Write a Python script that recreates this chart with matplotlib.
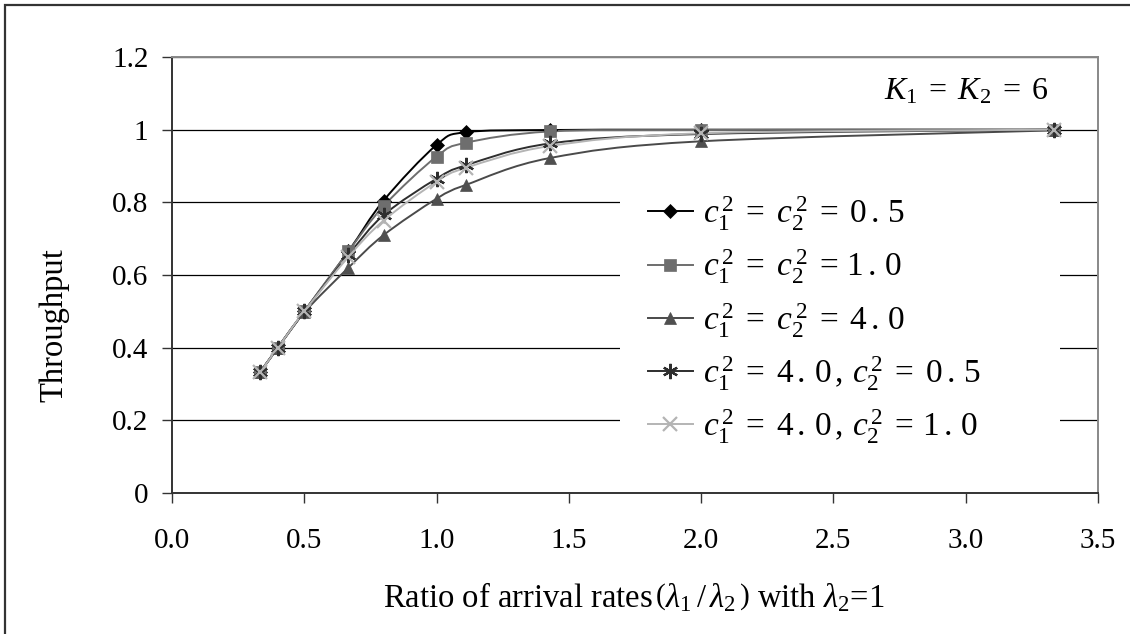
import matplotlib
matplotlib.use("Agg")
import matplotlib.pyplot as plt
from matplotlib.lines import Line2D
from matplotlib.path import Path
from matplotlib.patches import PathPatch, Rectangle

plt.rcParams["font.family"] = ["Liberation Serif", "DejaVu Serif"]
plt.rcParams["mathtext.fontset"] = "custom"
plt.rcParams["mathtext.rm"] = "Liberation Serif"
plt.rcParams["mathtext.it"] = "Liberation Serif:italic"
plt.rcParams["mathtext.bf"] = "Liberation Serif:bold"

# arrival rate ratio lambda1 / lambda2
ratio = [1 / 3, 0.4, 0.5, 2 / 3, 0.8, 1.0, 10 / 9, 10 / 7, 2.0, 10 / 3]

# throughput for each (c1^2, c2^2) setting
tp_05_05 = [0.333, 0.400, 0.500, 0.665, 0.805, 0.958, 0.993, 0.999, 1.000, 1.000]
tp_10_10 = [0.333, 0.400, 0.500, 0.665, 0.790, 0.926, 0.964, 0.995, 0.999, 1.000]
tp_40_40 = [0.333, 0.400, 0.497, 0.620, 0.710, 0.810, 0.848, 0.922, 0.968, 0.998]
tp_40_05 = [0.333, 0.400, 0.500, 0.655, 0.765, 0.865, 0.902, 0.962, 0.988, 1.000]
tp_40_10 = [0.333, 0.400, 0.500, 0.650, 0.750, 0.857, 0.895, 0.955, 0.990, 1.000]

labels = [
    r"$c_1^{\,2}\;=\;c_2^{\,2}\;=\;0\,.\,5$",
    r"$c_1^{\,2}\;=\;c_2^{\,2}\;=\,1\,.\,0$",
    r"$c_1^{\,2}\;=\;c_2^{\,2}\;=\;4\,.\,0$",
    r"$c_1^{\,2}\;=\;4\,.\,0\,,\,c_2^{\,2}\;=\;0\,.\,5$",
    r"$c_1^{\,2}\;=\;4\,.\,0\,,\,c_2^{\,2}\;=\,1\,.\,0$",
]

series = [tp_05_05, tp_10_10, tp_40_40, tp_40_05, tp_40_10]
line_colors = ["#000000", "#6e6e6e", "#4a4a4a", "#2e2e2e", "#b4b4b4"]
marker_colors = ["#000000", "#6e6e6e", "#4f4f4f", "#2e2e2e", "#b4b4b4"]
markers = ["D", "s", "^", (6, 2, 0), "x"]
marker_sizes = [7, 8, 9, 11, 10]


def smooth_path(xs, ys):
    """Cubic Bezier path through the points (Excel-style smoothed line)."""
    pts = list(zip(xs, ys))
    verts = [pts[0]]
    codes = [Path.MOVETO]
    n = len(pts)
    for i in range(n - 1):
        p0 = pts[i - 1] if i > 0 else pts[i]
        p1 = pts[i]
        p2 = pts[i + 1]
        p3 = pts[i + 2] if i + 2 < n else pts[i + 1]
        c1 = (p1[0] + (p2[0] - p0[0]) / 6, p1[1] + (p2[1] - p0[1]) / 6)
        c2 = (p2[0] - (p3[0] - p1[0]) / 6, p2[1] - (p3[1] - p1[1]) / 6)
        verts += [c1, c2, p2]
        codes += [Path.CURVE4] * 3
    return Path(verts, codes)


fig = plt.figure(figsize=(11.3, 6.34), dpi=100)
ax = fig.add_axes([172 / 1130, 1 - 493 / 634, (1098 - 172) / 1130, (493 - 57) / 634])

handles = []
for ys, lc, mc, m, ms, lab in zip(series, line_colors, marker_colors, markers, marker_sizes, labels):
    ax.add_patch(PathPatch(smooth_path(ratio, ys), facecolor="none", edgecolor=lc,
                           linewidth=1.4, zorder=3))
    mew = 1.6 if m in ("x", (6, 2, 0)) else 0.5
    ax.plot(ratio, ys, linestyle="none", marker=m, markersize=ms, color=mc,
            markeredgecolor=mc, markeredgewidth=mew, zorder=4, clip_on=False)
    handles.append(Line2D([], [], color=lc, linewidth=1.4, marker=m, markersize=ms,
                          markerfacecolor=mc, markeredgecolor=mc, markeredgewidth=mew,
                          label=lab))

ax.set_xlim(0, 3.5)
ax.set_ylim(0, 1.2)
ax.set_xticks([0.0, 0.5, 1.0, 1.5, 2.0, 2.5, 3.0, 3.5])
ax.set_xticklabels(["0.0", "0.5", "1.0", "1.5", "2.0", "2.5", "3.0", "3.5"])
ax.set_yticks([0, 0.2, 0.4, 0.6, 0.8, 1.0, 1.2])
ax.set_yticklabels(["0", "0.2", "0.4", "0.6", "0.8", "1", "1.2"])
ax.tick_params(axis="both", direction="out", length=7, width=1, colors="#333333",
               labelcolor="black", labelsize=21)
ax.tick_params(axis="x", pad=18)
ax.tick_params(axis="y", pad=10)

ax.yaxis.grid(True, color="black", linewidth=0.9)
ax.set_axisbelow(True)
for side in ("left", "bottom"):
    ax.spines[side].set_color("#333333")
    ax.spines[side].set_linewidth(1.4)
for side in ("top", "right"):
    ax.spines[side].set_color("#888888")
    ax.spines[side].set_linewidth(1.4)

# axis titles
fig.text(54 / 1130, 1 - 325 / 634, "Throughput", fontsize=23.5, rotation=90,
         ha="center", va="center")
fig.text(634 / 1130, 1 - 597 / 634,
         r"Ratio of arrival rates$\,\left(\lambda_1\,/\,\lambda_2\,\right)$ with $\lambda_2$=1",
         fontsize=23.5, ha="center", va="center")

ax.text(3.0, 1.104, r"$K_1\;=\;K_2\;=\;6$", fontsize=23, ha="center", va="center")

# white legend area covering the gridlines
ax.add_patch(Rectangle((0.484, 0.099), 0.475, 0.607, transform=ax.transAxes,
                       facecolor="white", edgecolor="none", zorder=2))

leg = ax.legend(handles=handles, loc="upper left", bbox_to_anchor=(0.485, 0.747),
                fontsize=24, frameon=False,
                handlelength=1.35, handletextpad=0.3, labelspacing=0.43,
                borderpad=0.3)

# outer chart border
fig.add_artist(Rectangle((5 / 1130, -0.1), 1.2, 1.1 - 5 / 634, transform=fig.transFigure,
                         facecolor="none", edgecolor="#333333", linewidth=1.6, clip_on=False))

fig.savefig("out.png", dpi=100)
